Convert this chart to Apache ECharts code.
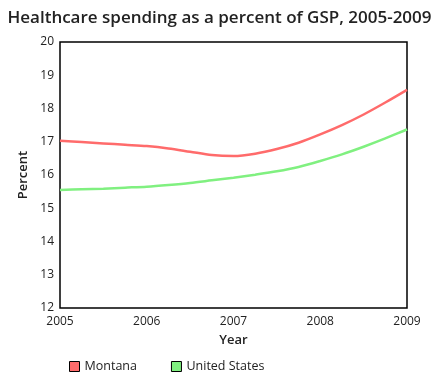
<!DOCTYPE html>
<html><head><meta charset="utf-8">
<script src="https://cdn.jsdelivr.net/npm/echarts@6/dist/echarts.min.js"></script>
<style>html,body{margin:0;padding:0;background:#fff}#c{width:439px;height:389px}</style>
</head><body><div id="c"></div>
<script>
const years = [2005,2005.25,2005.5,2005.75,2006,2006.25,2006.5,2006.75,2007,2007.25,2007.5,2007.75,2008,2008.25,2008.5,2008.75,2009];
const montana = [17.03,16.99,16.95,16.91,16.87,16.80,16.70,16.60,16.57,16.64,16.78,16.97,17.22,17.50,17.82,18.18,18.56];
const unitedStates = [15.55,15.57,15.59,15.62,15.65,15.70,15.76,15.84,15.92,16.01,16.11,16.24,16.42,16.62,16.85,17.10,17.37];
const seriesNames = ['Montana','United States'];
const colors = ['#ff6b6b','#80f080'];
const font = '"Open Sans", sans-serif';
const chart = echarts.init(document.getElementById('c'), null, {renderer:'canvas'});
const mk = (vals) => years.map((y,i)=>[y, vals[i]]);
chart.setOption({
  animation:false,
  textStyle:{fontFamily:font},
  title:{text:'Healthcare spending as a percent of GSP, 2005-2009', left:'center', top:5,
    textStyle:{fontFamily:font, fontSize:17, fontWeight:600, color:'#222'}},
  grid:{left:60, right:32, top:42, bottom:81, show:true, borderColor:'#000', borderWidth:1.5},
  xAxis:{type:'value', min:2005, max:2009, interval:1, name:'Year', nameLocation:'middle', nameGap:26,
    nameTextStyle:{fontFamily:font, fontSize:13, fontWeight:600, color:'#222'},
    axisLine:{show:false}, axisTick:{show:false}, splitLine:{show:false},
    axisLabel:{fontFamily:font, fontSize:12, color:'#222', margin:8, formatter:v=>String(v)}},
  yAxis:{type:'value', min:12, max:20, interval:1, name:'Percent', nameLocation:'middle', nameGap:26,
    nameTextStyle:{fontFamily:font, fontSize:13, fontWeight:600, color:'#222'},
    axisLine:{show:false}, axisTick:{show:false}, splitLine:{show:false},
    axisLabel:{fontFamily:font, fontSize:12, color:'#222', margin:6}},
  legend:{left:64, top:355, icon:'rect', itemWidth:10, itemHeight:10, itemGap:34,
    textStyle:{fontFamily:font, fontSize:12.5, color:'#222'},
    itemStyle:{borderColor:'#000', borderWidth:1},
    data:seriesNames},
  series:[
    {name:seriesNames[0], type:'line', data:mk(montana), smooth:0.3, showSymbol:false, symbol:'none',
      color:colors[0], lineStyle:{width:2.5, color:colors[0]}},
    {name:seriesNames[1], type:'line', data:mk(unitedStates), smooth:0.3, showSymbol:false, symbol:'none',
      color:colors[1], lineStyle:{width:2.5, color:colors[1]}}
  ]
});
</script></body></html>
